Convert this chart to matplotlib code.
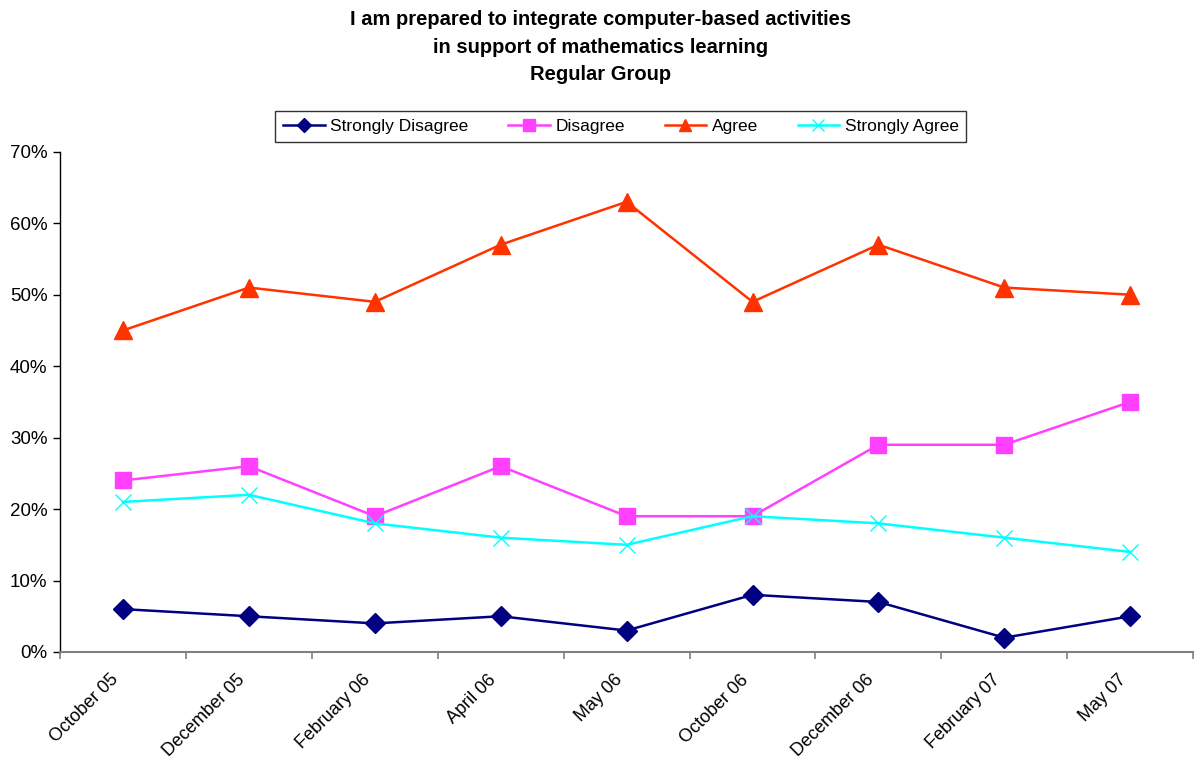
import matplotlib
matplotlib.use('Agg')
import matplotlib.pyplot as plt
from matplotlib.ticker import FixedLocator, PercentFormatter
from matplotlib.transforms import ScaledTranslation

plt.rcParams['font.family'] = ['Liberation Sans', 'DejaVu Sans']

months = ['October 05', 'December 05', 'February 06', 'April 06', 'May 06',
          'October 06', 'December 06', 'February 07', 'May 07']
strongly_disagree = [6, 5, 4, 5, 3, 8, 7, 2, 5]
disagree = [24, 26, 19, 26, 19, 19, 29, 29, 35]
agree = [45, 51, 49, 57, 63, 49, 57, 51, 50]
strongly_agree = [21, 22, 18, 16, 15, 19, 18, 16, 14]

fig = plt.figure(figsize=(11.94, 7.59), dpi=100)
ax = fig.add_axes([0.0503, 0.141, 0.949, 0.659])

x = list(range(len(months)))
ax.plot(x, strongly_disagree, color='#000080', lw=1.8, marker='D', ms=10,
        label='Strongly Disagree')
ax.plot(x, disagree, color='#FF40FF', lw=1.8, marker='s', ms=11.5,
        label='Disagree')
ax.plot(x, agree, color='#FF3300', lw=1.8, marker='^', ms=12.5,
        label='Agree')
ax.plot(x, strongly_agree, color='#00FFFF', lw=1.8, marker='x', ms=12,
        mew=1.0, label='Strongly Agree')

ax.set_xlim(-0.5, len(months) - 0.5)
ax.set_ylim(0, 70)
ax.set_yticks(range(0, 71, 10))
ax.yaxis.set_major_formatter(PercentFormatter(decimals=0))

# tick marks between categories, labels centred on categories
ax.xaxis.set_major_locator(FixedLocator([i - 0.5 for i in range(len(months) + 1)]))
ax.xaxis.set_major_formatter(plt.NullFormatter())
ax.xaxis.set_minor_locator(FixedLocator(x))
ax.set_xticklabels(months, minor=True, rotation=45, ha='right', va='top',
                   rotation_mode='anchor', fontsize=13)
ax.tick_params(axis='x', which='minor', length=0, pad=11)
ax.tick_params(axis='x', which='major', length=5, color='#808080', width=1.2)
ax.tick_params(axis='y', length=5, width=1, labelsize=13.5, pad=4)
shift = ScaledTranslation(-0.13, -0.04, fig.dpi_scale_trans)
for lbl in ax.get_xticklabels(minor=True):
    lbl.set_transform(lbl.get_transform() + shift)

for s in ['top', 'right']:
    ax.spines[s].set_visible(False)
ax.spines['bottom'].set_color('#808080')
ax.spines['bottom'].set_linewidth(1.5)
ax.spines['left'].set_linewidth(1)

fig.text(0.503, 0.987, 'I am prepared to integrate computer-based activities\n'
         'in support of mathematics learning\nRegular Group',
         ha='center', va='top', fontsize=14.5, fontweight='bold', linespacing=1.58)

leg = fig.legend(loc='center', bbox_to_anchor=(0.52, 0.833), ncol=4,
                 fontsize=12.5, frameon=True, fancybox=False, edgecolor='black',
                 handlelength=2.4, columnspacing=2.3, borderpad=0.45,
                 handletextpad=0.3, markerscale=0.7)
leg.get_frame().set_linewidth(1)

fig.savefig('out.png', dpi=100)
